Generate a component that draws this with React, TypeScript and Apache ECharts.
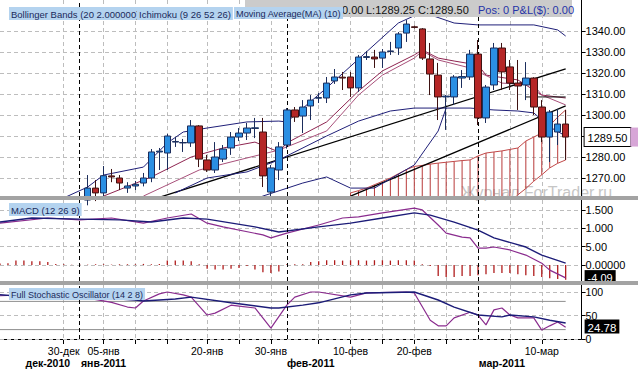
import React, { useEffect, useRef } from 'react';
import * as echarts from 'echarts';

// ---------- data ----------
const categories: string[] = Array.from({ length: 74 }, (_, i) => String(i));
const firstCandle = 11;
const candleOpen = [1259.5,1265.2,1262.9,1271.0,1270.0,1265.2,1266.2,1267.6,1270.0,1282.4,1281.9,1287.1,1286.7,1286.7,1294.8,1278.6,1273.8,1279.0,1284.3,1289.5,1291.4,1293.6,1291.9,1263.3,1273.8,1285.7,1302.4,1299.5,1304.3,1308.0,1308.1,1316.2,1318.0,1318.1,1312.9,1327.4,1327.6,1327.1,1330.2,1331.9,1339.0,1342.0,1341.0,1326.7,1319.0,1308.6,1308.6,1317.6,1318.1,1329.0,1298.6,1314.3,1331.9,1322.9,1315.2,1314.3,1317.6,1303.8,1289.5,1291.9,1295.7];
const candleClose = [1265.2,1262.9,1271.1,1270.5,1267.6,1266.2,1267.0,1270.0,1282.4,1282.8,1290.0,1287.4,1286.9,1294.8,1279.0,1273.8,1280.0,1283.8,1289.5,1291.4,1293.8,1293.9,1271.0,1274.8,1284.8,1302.4,1299.0,1303.8,1307.1,1308.3,1315.2,1318.1,1317.6,1312.9,1327.6,1327.8,1326.7,1330.0,1330.5,1338.6,1343.3,1341.7,1327.1,1319.5,1308.6,1309.0,1318.1,1318.3,1329.0,1298.6,1313.3,1331.9,1320.5,1315.2,1313.8,1317.6,1303.8,1289.5,1301.4,1295.7,1289.5];
const candleLow = [1257,1259,1260,1268,1264.3,1262.9,1264.3,1266,1268,1273.8,1273.8,1284.8,1282.4,1284.8,1275.2,1272.9,1272.4,1277.6,1281,1287.6,1288.1,1289,1265.7,1261,1269,1284,1296.7,1291.4,1297.6,1305.7,1305.7,1314.8,1311.9,1308.6,1311,1326.2,1322.4,1322.4,1328.6,1328.6,1334.8,1341.2,1326.2,1309.5,1297.6,1292.9,1304.8,1312.9,1316.7,1295.2,1296.2,1311.9,1311.9,1311.9,1302.4,1307.1,1300,1287.1,1277.6,1285.7,1278.6];
const candleHigh = [1271.4,1269,1275.7,1274.3,1271.4,1268,1268.6,1272.4,1283.8,1284.3,1291,1289.5,1288.6,1297.6,1295.2,1281,1287.1,1285.7,1291.9,1293.8,1296.2,1298.6,1298.6,1276.2,1287.1,1303.3,1303.8,1307.1,1309.5,1310.5,1318.1,1321.9,1320.5,1320.5,1328.6,1330.5,1331,1331.4,1334.8,1339.5,1345.2,1342.6,1341.4,1334.3,1324.8,1309.5,1319,1321.4,1331,1335.7,1314.3,1334.3,1334.3,1326.2,1326.2,1325.2,1318,1307.1,1302.4,1302.9,1302.4];

const bbUpper = [[8,1260.5],[11,1265.7],[13,1271.4],[18,1275.2],[21,1286.7],[23,1291.9],[26,1293.8],[31,1296.7],[35,1297.1],[36,1296.7],[41,1312.9],[50,1343.8],[53,1349],[57,1343.8],[60,1342.9],[67,1342.9],[70,1340.5],[71,1337.6]];
const bbLower = [[31,1258],[33,1261.4],[38,1267.6],[41,1270.5],[44,1265.2],[47,1265.2],[52,1276.2],[55,1292.4],[56,1303.3]];
const navyMid = [[22,1262.9],[26,1270],[31,1272.9],[35,1278.6],[41,1290],[45,1297.1],[49,1301.9],[52,1303.3],[56,1303.3],[59,1303.3],[62,1302.4],[65,1301.9],[67,1301],[69,1294.3],[71,1290]];
const maLine = [[13,1261.4],[19,1270.5],[24,1280],[28,1284.3],[32,1287.1],[35,1282.4],[36,1286.7],[41,1296.7],[45,1311.4],[48,1321],[52,1328.6],[53,1331],[55,1327.1],[57,1325.7],[60,1323.8],[61,1319],[65,1316.7],[68,1309.5],[71,1308.1]];
const tenkanLine = [[18,1261.4],[25,1273.8],[30,1278.6],[35,1283.3],[41,1292.4],[45,1309.5],[48,1319],[52,1327.1],[53,1330.5],[55,1326.2],[59,1322.4],[63,1315.2],[67,1314.3],[68,1309.5],[71,1304.8]];
const kijunUpper = [[64,1315],[67,1315]];
const kijunLower = [[66,1308.6],[71,1308.6]];
const trendA = [[18,1258.4],[71,1322]];
const trendB = [[44,1261.4],[71,1304.3]];

const cloudStart = 44;
const cloudTop = [1262.9,1264,1265.2,1266.8,1268.4,1270,1272,1274,1275.5,1276,1276.6,1277.1,1277.5,1277.9,1278.3,1278.6,1280.5,1281.9,1282.4,1282.9,1283.6,1284.3,1287.6,1289.5,1291.4,1295,1299,1302.4];
const cloudBottom = [1250,1250,1250,1250,1250,1250,1250,1250,1250,1250,1250,1250,1250,1250,1250,1250,1250,1250,1250,1250,1258,1262,1265,1268.5,1271.5,1274.8,1277,1278.6];

const macdLine = [[0,1.14],[6,1.28],[10,1.23],[14,1.28],[18,1.14],[21,1.28],[24,1.39],[26,1.14],[28,1.04],[33,0.82],[34,0.74],[36,0.87],[40,1.09],[43,1.28],[45,1.31],[48,1.42],[52,1.55],[53,1.5],[55,1.09],[56,0.87],[58,0.76],[59,0.74],[60,0.46],[61,0.46],[62,0.49],[64,0.41],[66,0.27],[68,0.05],[69,-0.14],[71,-0.35]];
const macdSignal = [[0,1.17],[4,1.28],[10,1.25],[15,1.23],[19,1.17],[23,1.28],[26,1.25],[32,1.04],[35,0.9],[40,1.04],[44,1.14],[48,1.28],[52,1.42],[54,1.36],[57,1.17],[60,0.95],[62,0.74],[66,0.49],[68,0.27],[71,0.05]];
const macdHist = [0.04,0.05,0.12,0.12,0.1,0.1,0.08,0.03,0.02,0.01,0.02,0.01,0.02,0.02,0.01,0.02,0.02,0.02,0.03,0.02,0.03,0.12,0.12,0.12,0.1,0.02,-0.1,-0.12,-0.12,-0.1,-0.08,-0.03,-0.12,-0.2,-0.22,-0.18,0.02,0.02,0.02,0.08,0.1,0.13,0.13,0.12,0.13,0.13,0.12,0.13,0.13,0.12,0.13,0.13,0.12,0.02,-0.03,-0.3,-0.33,-0.33,-0.3,-0.3,-0.28,-0.25,-0.22,-0.22,-0.22,-0.25,-0.28,-0.3,-0.33,-0.36,-0.38,-0.4];

const stochK = [[0,92],[5,95],[10,90],[14,78],[16,68],[17,66],[18,81],[20,96],[21,100],[23,94],[24,89],[26,51],[27,55],[29,72],[30,70],[32,66],[34,23],[36,72],[37,89],[39,100],[40,100],[44,89],[46,98],[51,100],[52,98],[54,40],[55,28],[56,28],[57,45],[59,57],[60,51],[61,30],[62,62],[63,66],[64,51],[65,45],[67,45],[68,19],[69,28],[70,36],[71,24.78]];
const stochD = [[0,94],[4,89],[8,89],[13,87],[17,83],[18,81],[22,85],[24,89],[29,77],[34,66],[35,66],[38,72],[40,77],[44,94],[46,98],[52,100],[55,83],[57,68],[60,51],[63,47],[64,51],[67,47],[69,40],[71,34]];
const stochLevels = [80, 20];

const priceTicks = [1270, 1280, 1290, 1300, 1310, 1320, 1330, 1340];
const priceLabelTicks = [1270, 1280, 1300, 1310, 1320, 1330, 1340]; // 1290 hidden under the last-price box
const macdTicks = [0, 0.5, 1, 1.5];
const macdTickText = ['0.00000', '5.00', '1.000', '1.500'];
const stochTicks = [0, 50, 100];

const gridIdx = [8, 13, 17, 21, 26, 30, 34, 40, 44, 48, 52, 56, 64, 68];
const monthLineIdx = ['10', '36', '60'];
const dayLabelIdx = [8, 13, 26, 34, 44, 52, 68];
const dayLabelText = ['30-дек', '05-янв', '20-янв', '30-янв', '10-фев', '20-фев', '10-мар'];
const monthLabelIdx = [6, 13, 39, 63];
const monthLabelText = ['дек-2010', 'янв-2011', 'фев-2011', 'мар-2011'];

const lastPrice = 1289.5;
const lastMacd = -0.327;
const lastMacdText = '-4.09';
const lastStoch = 24.78;
const lastStochBoxLevel = 26.5;

const FONT = 'Liberation Sans, Arial, sans-serif';

export default function App() {
  const ref = useRef<HTMLDivElement>(null);
  useEffect(() => {
    if (!ref.current) return;
    const chart = echarts.init(ref.current, undefined, { renderer: 'svg' });

    const gridDash = { type: [4, 3] as any, color: '#bdbdbd', width: 1 };
    const monthMarks = (extra: any[] = []) => ({
      silent: true,
      symbol: ['none', 'none'],
      animation: false,
      label: { show: false },
      lineStyle: { color: '#000', type: [4, 3], width: 1 },
      data: [...monthLineIdx.map((m) => ({ xAxis: m })), ...extra],
    });
    const valueMark = (y: number, formatter: string, rich: any) => ({
      yAxis: y,
      lineStyle: { color: 'rgba(0,0,0,0)', width: 1, type: 'solid' },
      label: { show: true, position: 'end', distance: 3, formatter, rich },
    });

    const xBase = (gi: number) => ({
      type: 'category',
      gridIndex: gi,
      data: categories,
      boundaryGap: false,
      axisLine: { show: false },
      axisTick: { show: false },
      axisLabel: { show: false },
      splitLine: { show: true, interval: (i: number) => gridIdx.includes(i), lineStyle: gridDash },
    });

    const yBase = (gi: number, min: number, max: number, ticks: number[], labels: number[], fmt: (v: number) => string, fs = 11) => ({
      type: 'value',
      gridIndex: gi,
      position: 'right',
      min,
      max,
      z: 1,
      axisLine: { show: true, lineStyle: { color: '#000', width: 1 } },
      axisTick: { show: true, length: 4, customValues: ticks, lineStyle: { color: '#000' } },
      axisLabel: { customValues: labels, formatter: fmt, color: '#000', fontSize: fs, fontFamily: FONT, margin: 4 },
      splitLine: { show: true, lineStyle: gridDash },
    });

    const line = (data: any, color: string, width = 1, xi = 0, yi = 0, extra: any = {}) => ({
      type: 'line',
      xAxisIndex: xi,
      yAxisIndex: yi,
      data,
      symbol: 'none',
      showSymbol: false,
      lineStyle: { color, width },
      silent: true,
      z: 3,
      ...extra,
    });

    const candleData = candleOpen.map((o, i) => [firstCandle + i, o, candleClose[i], candleLow[i], candleHigh[i]]);
    const cloudData = cloudTop.map((t, i) => [cloudStart + i, t, cloudBottom[i]]);
    const cloudTopLine = cloudTop.map((t, i) => [cloudStart + i, t]);
    const cloudBotLine = cloudBottom.map((b, i) => [cloudStart + i, b]);

    const option: any = {
      animation: false,
      backgroundColor: '#ffffff',
      textStyle: { fontFamily: FONT },
      grid: [
        { left: 0, top: 0, width: 581.6, height: 196, outerBoundsMode: 'none' },
        { left: 0, top: 200, width: 581.6, height: 81, outerBoundsMode: 'none' },
        { left: 0, top: 285, width: 581.6, height: 54, outerBoundsMode: 'none' },
      ],
      xAxis: [
        xBase(0),
        xBase(1),
        {
          ...xBase(2),
          axisLine: { show: true, lineStyle: { color: '#000', width: 1 } },
          axisTick: { show: true, length: 5, interval: (i: number) => gridIdx.includes(i), lineStyle: { color: '#000' } },
          axisLabel: {
            show: true,
            interval: (i: number) => dayLabelIdx.includes(i),
            formatter: (_v: string, i: number) => dayLabelText[dayLabelIdx.indexOf(i)] ?? '',
            color: '#000',
            fontSize: 10.5,
            lineHeight: 11,
            fontFamily: FONT,
            margin: 6,
          },
        },
        {
          type: 'category',
          gridIndex: 2,
          data: categories,
          boundaryGap: false,
          position: 'bottom',
          offset: 12,
          axisLine: { show: false },
          axisTick: { show: false },
          splitLine: { show: false },
          axisLabel: {
            show: true,
            interval: (i: number) => monthLabelIdx.includes(i),
            formatter: (_v: string, i: number) => monthLabelText[monthLabelIdx.indexOf(i)] ?? '',
            color: '#000',
            fontSize: 10.5,
            lineHeight: 11,
            fontWeight: 'bold',
            fontFamily: FONT,
            margin: 6,
          },
        },
      ],
      yAxis: [
        yBase(0, 1261.43, 1354.76, priceTicks, priceLabelTicks, (v: number) => v.toFixed(2)),
        yBase(1, -0.436, 1.771, macdTicks, macdTicks, (v: number) => macdTickText[macdTicks.indexOf(v)] ?? ''),
        yBase(2, 0, 114.9, stochTicks, stochTicks, (v: number) => String(v), 10.5),
      ],
      graphic: [
        { type: 'text', x: 461, y: 184, z: 0, silent: true, style: { text: 'Журнал ForTrader.ru', fill: '#c6c6c6', fontSize: 16, fontFamily: FONT } },
        { type: 'rect', z: 100, silent: true, shape: { x: 0, y: 196, width: 638, height: 4 }, style: { fill: '#a3a3a3' } },
        { type: 'rect', z: 100, silent: true, shape: { x: 0, y: 281, width: 638, height: 4 }, style: { fill: '#a3a3a3' } },
        { type: 'rect', z: 100, silent: true, shape: { x: 245, y: 0, width: 327, height: 17 }, style: { fill: '#cbcbcb' } },
        { type: 'text', z: 101, silent: true, x: 342, y: 4, style: { text: '0.00', fill: '#111', fontSize: 11, fontFamily: FONT } },
        { type: 'text', z: 101, silent: true, x: 366, y: 4, style: { text: 'L:1289.25', fill: '#111', fontSize: 11, fontFamily: FONT } },
        { type: 'text', z: 101, silent: true, x: 418, y: 4, style: { text: 'C:1289.50', fill: '#111', fontSize: 11, fontFamily: FONT } },
        { type: 'text', z: 101, silent: true, x: 478, y: 4, style: { text: 'Pos: 0 P&L($): 0.00', fill: '#2533a8', fontSize: 11, fontFamily: FONT } },
        { type: 'text', z: 102, silent: true, x: 9, y: 7, style: { text: 'Bollinger Bands (20 2.000000)', fill: '#1b2a5b', fontSize: 9.5, fontFamily: FONT, backgroundColor: '#b4d3ef', padding: [2, 2, 1, 2] } },
        { type: 'text', z: 102, silent: true, x: 137, y: 7, style: { text: 'Ichimoku (9 26 52 26)', fill: '#1b2a5b', fontSize: 9.5, fontFamily: FONT, backgroundColor: '#b4d3ef', padding: [2, 2, 1, 2] } },
        { type: 'text', z: 102, silent: true, x: 234, y: 7, style: { text: 'Moving Average(MA) (10)', fill: '#1b2a5b', fontSize: 9.2, fontFamily: FONT, backgroundColor: '#b4d3ef', padding: [2, 2, 1, 2] } },
        { type: 'text', z: 102, silent: true, x: 9, y: 203, style: { text: 'MACD (12 26 9)', fill: '#1b2a5b', fontSize: 9.5, fontFamily: FONT, backgroundColor: '#b4d3ef', padding: [2, 2, 1, 2] } },
        { type: 'text', z: 102, silent: true, x: 9, y: 288, style: { text: 'Full Stochastic Oscillator (14 2 8)', fill: '#1b2a5b', fontSize: 9, fontFamily: FONT, backgroundColor: '#b4d3ef', padding: [2, 2, 1, 2] } },
      ],
      series: [
        {
          type: 'custom',
          xAxisIndex: 0,
          yAxisIndex: 0,
          silent: true,
          z: 2,
          data: cloudData,
          encode: { x: 0, y: [1, 2] },
          renderItem: (params: any, api: any) => {
            const x = api.value(0);
            const top = api.coord([x, api.value(1)]);
            const bot = api.coord([x, api.value(2)]);
            const cs = params.coordSys;
            const y2 = Math.min(bot[1], cs.y + cs.height);
            const y1 = Math.max(top[1], cs.y);
            return { type: 'line', shape: { x1: top[0], y1, x2: top[0], y2 }, style: { stroke: '#b83a3a', lineWidth: 1 } };
          },
        },
        line(cloudTopLine, '#c04848', 1),
        line(cloudBotLine, '#c04848', 1),
        line(trendA, '#000', 1.3, 0, 0, { markLine: monthMarks() }),
        line(trendB, '#000', 1.3),
        line(bbUpper, '#1f1f78', 1),
        line(bbLower, '#1f1f78', 1),
        line(navyMid, '#1f1f78', 1),
        line(maLine, '#8e2450', 1),
        line(tenkanLine, '#a8507a', 1),
        line(kijunUpper, '#111', 1),
        line(kijunLower, '#111', 1),
        {
          type: 'candlestick',
          xAxisIndex: 0,
          yAxisIndex: 0,
          data: candleData,
          encode: { x: 0, y: [1, 2, 3, 4] },
          barWidth: 7,
          silent: true,
          z: 5,
          itemStyle: {
            color: '#2b8fe3',
            color0: '#b52626',
            borderColor: '#1b2d5c',
            borderColor0: '#3e1212',
            borderWidth: 1,
          },
          markLine: {
            silent: true,
            symbol: ['none', 'none'],
            animation: false,
            z: 20,
            data: [
              valueMark(lastPrice, '{a|' + lastPrice.toFixed(2) + '}{b|}', {
                a: { backgroundColor: '#fff', borderColor: '#000', borderWidth: 1, padding: [4, 3, 3, 3], fontSize: 11, color: '#000', fontFamily: FONT },
                b: { backgroundColor: '#d7a6d7', width: 12, height: 19 },
              }),
            ],
          },
        },
        {
          type: 'bar',
          xAxisIndex: 1,
          yAxisIndex: 1,
          data: macdHist,
          barWidth: 1.3,
          silent: true,
          itemStyle: { color: '#b01c1c' },
          markLine: monthMarks([
            valueMark(lastMacd, '{a|' + lastMacdText + '}', {
              a: { backgroundColor: '#000', color: '#fff', padding: [2, 3, 1, 3], fontSize: 11, fontFamily: FONT },
            }),
          ]),
        },
        line(macdLine, '#8a2c8e', 1.2, 1, 1),
        line(macdSignal, '#1c1c78', 1.4, 1, 1),
        line([[0, stochLevels[0]], [71, stochLevels[0]]], '#8e8e8e', 1, 2, 2, {
          markLine: monthMarks([
            valueMark(lastStochBoxLevel, '{a|' + lastStoch.toFixed(2) + '}', {
              a: { backgroundColor: '#000', color: '#fff', padding: [2, 3, 0, 3], fontSize: 11.5, fontFamily: FONT },
            }),
          ]),
        }),
        line([[0, stochLevels[1]], [71, stochLevels[1]]], '#8e8e8e', 1, 2, 2),
        line(stochK, '#8a2c8e', 1.2, 2, 2),
        line(stochD, '#1c1c78', 1.4, 2, 2),
      ],
    };

    chart.setOption(option);
    return () => chart.dispose();
  }, []);

  return (
    <div
      ref={ref}
      style={{ position: 'fixed', left: 0, top: 0, width: 638, height: 369, background: '#fff' }}
    />
  );
}
